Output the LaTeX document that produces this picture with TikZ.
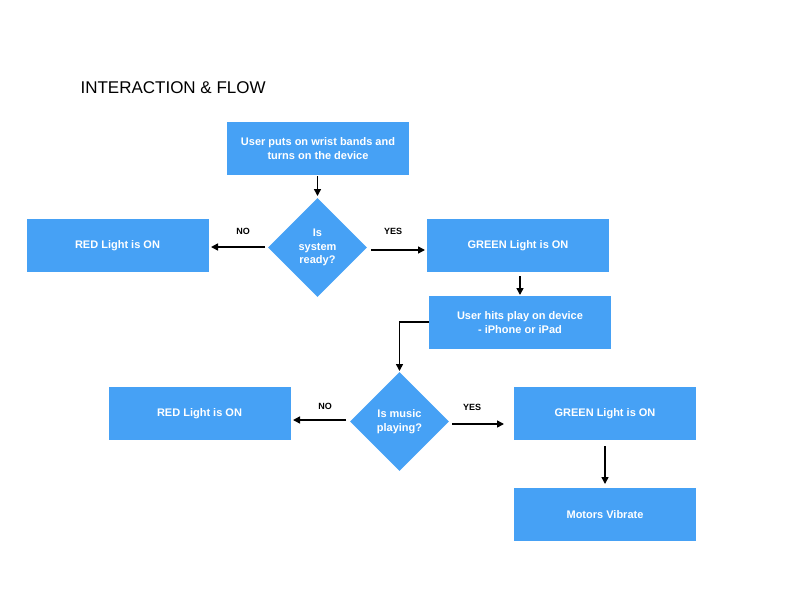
\documentclass[tikz,border=0pt]{standalone}
\usepackage{fontspec}
\setmainfont{Liberation Sans}
\usetikzlibrary{arrows.meta,shapes.geometric}
\definecolor{boxblue}{RGB}{70,161,245}
\tikzset{
  box/.style={fill=boxblue,draw=none,minimum width=182pt,minimum height=53pt,inner sep=0pt,
    font=\fontsize{11}{13.5}\selectfont\bfseries,text=white,align=center},
  dec/.style={diamond,fill=boxblue,draw=none,minimum width=99pt,minimum height=99pt,aspect=1,inner sep=0pt,
    font=\fontsize{11}{13.5}\selectfont\bfseries,text=white,align=center},
  lab/.style={font=\fontsize{9}{11}\selectfont\bfseries,text=black},
  arr/.style={draw=black,line width=1.5pt,-{Triangle[length=7pt,width=7pt]}}
}
\begin{document}
\begin{tikzpicture}[x=1pt,y=-1pt]
\useasboundingbox (0,0) rectangle (800,600);
\node[anchor=west,font=\fontsize{17}{20}\selectfont] (title) at (77,88) {INTERACTION \& FLOW};
\node[box] (start) at (318,148.5) {User puts on wrist bands and\\turns on the device};
\node[dec] (d1) at (317.5,247.5) {Is\\system\\ready?};
\node[box] (red1) at (117.5,245.5) {\raisebox{-1.5pt}{RED Light is ON}};
\node[box] (green1) at (518,245.5) {\raisebox{-1.5pt}{GREEN Light is ON}};
\node[box] (play) at (520,322.5) {User hits play on device\\- iPhone or iPad};
\node[dec] (d2) at (399.5,421.5) {Is music\\playing?};
\node[box] (red2) at (199.5,413.5) {\raisebox{-1.5pt}{RED Light is ON}};
\node[box] (green2) at (605,413.5) {\raisebox{-1.5pt}{GREEN Light is ON}};
\node[box] (motor) at (605,514.5) {\raisebox{-1.5pt}{Motors Vibrate}};

\coordinate (s1) at (317.5,176);
\coordinate (e1) at (317.5,196);
\draw[arr] (s1) -- (e1);
\coordinate (n1a) at (265,247);
\coordinate (n1b) at (211,247);
\draw[arr] (n1a) -- (n1b);
\node[lab] (no1) at (243,231) {NO};
\coordinate (y1a) at (371,250);
\coordinate (y1b) at (425,250);
\draw[arr] (y1a) -- (y1b);
\node[lab] (yes1) at (393,231) {YES};
\coordinate (g1a) at (520,276);
\coordinate (g1b) at (520,295);
\draw[arr] (g1a) -- (g1b);
\coordinate (pa) at (429,322);
\coordinate (pb) at (399.5,322);
\coordinate (pc) at (399.5,371);
\draw[arr] (pa) -- (pb) -- (pc);
\coordinate (n2a) at (346,420);
\coordinate (n2b) at (293,420);
\draw[arr] (n2a) -- (n2b);
\node[lab] (no2) at (325,406) {NO};
\coordinate (y2a) at (452,424);
\coordinate (y2b) at (504,424);
\draw[arr] (y2a) -- (y2b);
\node[lab] (yes2) at (472,407) {YES};
\coordinate (g2a) at (605,446);
\coordinate (g2b) at (605,484);
\draw[arr] (g2a) -- (g2b);
\end{tikzpicture}
\end{document}
